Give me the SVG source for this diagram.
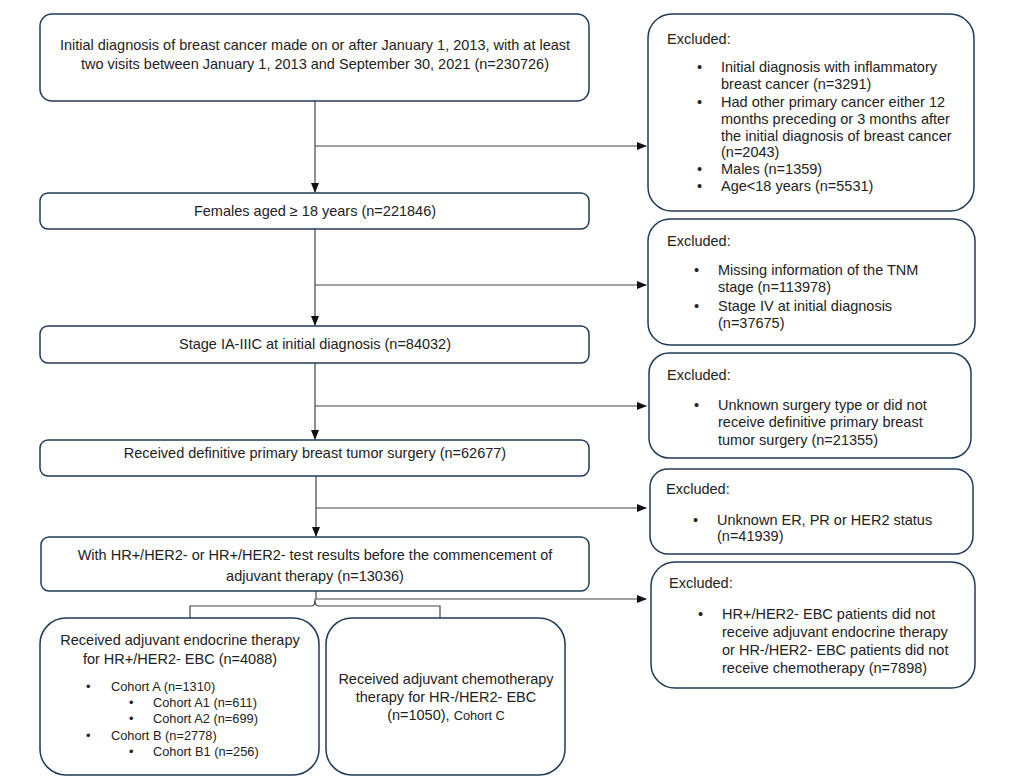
<svg xmlns="http://www.w3.org/2000/svg" width="1010" height="782" viewBox="0 0 1010 782">
<style>
.box{fill:#fff;stroke:#1f3a5a;stroke-width:1.5}
.t{font-family:"Liberation Sans",Arial,sans-serif;font-size:14.5px;fill:#222}
.c{text-anchor:middle}
.s{font-size:12.8px}
.ln{fill:none;stroke:#444;stroke-width:1.2}
</style>
<defs>
<marker id="ah" markerWidth="10" markerHeight="8" refX="9" refY="4" orient="auto" markerUnits="userSpaceOnUse">
<path d="M0,0 L10,4 L0,8 z" fill="#111"/>
</marker>
</defs>
<rect width="1010" height="782" fill="#fff"/>
<g id="connectors">
<line class="ln" x1="315" y1="101" x2="315" y2="192" marker-end="url(#ah)"/>
<line class="ln" x1="315" y1="146" x2="646" y2="146" marker-end="url(#ah)"/>
<line class="ln" x1="315" y1="229" x2="315" y2="325" marker-end="url(#ah)"/>
<line class="ln" x1="315" y1="285" x2="646" y2="285" marker-end="url(#ah)"/>
<line class="ln" x1="315" y1="363" x2="315" y2="439" marker-end="url(#ah)"/>
<line class="ln" x1="315" y1="406" x2="646" y2="406" marker-end="url(#ah)"/>
<line class="ln" x1="316" y1="476" x2="316" y2="536" marker-end="url(#ah)"/>
<line class="ln" x1="316" y1="508" x2="646" y2="508" marker-end="url(#ah)"/>
<line class="ln" x1="316" y1="591" x2="316" y2="599"/>
<line class="ln" x1="316" y1="599" x2="646" y2="599" marker-end="url(#ah)"/>
<path class="ln" d="M190,618 L190,606 L312,606 Q315,606 315,599 Q315,606 318,606 L440,606 L440,618"/>
</g>
<g id="n1">
<rect class="box" x="40" y="14" width="549" height="87" rx="12"/>
<text class="t c" x="315" y="50">Initial diagnosis of breast cancer made on or after January 1, 2013, with at least</text>
<text class="t c" x="315" y="69">two visits between January 1, 2013 and September 30, 2021 (n=230726)</text>
</g>
<g id="n2">
<rect class="box" x="40" y="193" width="549" height="36" rx="8"/>
<text class="t c" x="315" y="216">Females aged ≥ 18 years (n=221846)</text>
</g>
<g id="n3">
<rect class="box" x="40" y="326" width="549" height="37" rx="8"/>
<text class="t c" x="315" y="349">Stage IA-IIIC at initial diagnosis (n=84032)</text>
</g>
<g id="n4">
<rect class="box" x="40" y="440" width="549" height="36" rx="8"/>
<text class="t c" x="315" y="458">Received definitive primary breast tumor surgery (n=62677)</text>
</g>
<g id="n5">
<rect class="box" x="41" y="537" width="548" height="54" rx="8"/>
<text class="t c" x="315" y="560">With HR+/HER2- or HR+/HER2- test results before the commencement of</text>
<text class="t c" x="315" y="581">adjuvant therapy (n=13036)</text>
</g>
<g id="e1">
<rect class="box" x="648" y="14" width="326" height="197" rx="24"/>
<text class="t" x="667" y="44">Excluded:</text>
<g class="t">
<text x="697" y="72">•</text><text x="721" y="72">Initial diagnosis with inflammatory</text>
<text x="721" y="89">breast cancer (n=3291)</text>
<text x="697" y="107">•</text><text x="721" y="107">Had other primary cancer either 12</text>
<text x="721" y="124">months preceding or 3 months after</text>
<text x="721" y="141">the initial diagnosis of breast cancer</text>
<text x="721" y="157">(n=2043)</text>
<text x="697" y="174">•</text><text x="721" y="174">Males (n=1359)</text>
<text x="697" y="191">•</text><text x="721" y="191">Age&lt;18 years (n=5531)</text>
</g>
</g>
<g id="e2">
<rect class="box" x="648" y="219" width="327" height="126" rx="22"/>
<text class="t" x="667" y="246">Excluded:</text>
<g class="t">
<text x="694" y="275">•</text><text x="718" y="275">Missing information of the TNM</text>
<text x="718" y="292">stage (n=113978)</text>
<text x="694" y="311">•</text><text x="718" y="311">Stage IV at initial diagnosis</text>
<text x="718" y="328">(n=37675)</text>
</g>
</g>
<g id="e3">
<rect class="box" x="649" y="353" width="322" height="105" rx="20"/>
<text class="t" x="667" y="380">Excluded:</text>
<g class="t">
<text x="694" y="410">•</text><text x="718" y="410">Unknown surgery type or did not</text>
<text x="718" y="427">receive definitive primary breast</text>
<text x="718" y="445">tumor surgery (n=21355)</text>
</g>
</g>
<g id="e4">
<rect class="box" x="650" y="469" width="323" height="85" rx="18"/>
<text class="t" x="666" y="494">Excluded:</text>
<g class="t">
<text x="693" y="525">•</text><text x="717" y="525">Unknown ER, PR or HER2 status</text>
<text x="717" y="541">(n=41939)</text>
</g>
</g>
<g id="e5">
<rect class="box" x="651" y="562" width="324" height="126" rx="24"/>
<text class="t" x="669" y="588">Excluded:</text>
<g class="t">
<text x="698" y="619">•</text><text x="722" y="619">HR+/HER2- EBC patients did not</text>
<text x="722" y="637">receive adjuvant endocrine therapy</text>
<text x="722" y="655">or HR-/HER2- EBC patients did not</text>
<text x="722" y="673">receive chemotherapy (n=7898)</text>
</g>
</g>
<g id="n6">
<rect class="box" x="40" y="618" width="279" height="157" rx="26"/>
<text class="t c" x="180" y="645">Received adjuvant endocrine therapy</text>
<text class="t c" x="180" y="664">for HR+/HER2- EBC (n=4088)</text>
<g class="t s">
<text x="86" y="691">•</text><text x="111" y="691">Cohort A (n=1310)</text>
<text x="129" y="707">•</text><text x="153" y="707">Cohort A1 (n=611)</text>
<text x="129" y="723">•</text><text x="153" y="723">Cohort A2 (n=699)</text>
<text x="86" y="740">•</text><text x="111" y="740">Cohort B (n=2778)</text>
<text x="129" y="756">•</text><text x="153" y="756">Cohort B1 (n=256)</text>
</g>
</g>
<g id="n7">
<rect class="box" x="326" y="618" width="239" height="157" rx="26"/>
<text class="t c" x="446" y="684">Received adjuvant chemotherapy</text>
<text class="t c" x="446" y="702">therapy for HR-/HER2- EBC</text>
<text class="t c" x="446" y="720">(n=1050), <tspan class="s">Cohort C</tspan></text>
</g>
</svg>
